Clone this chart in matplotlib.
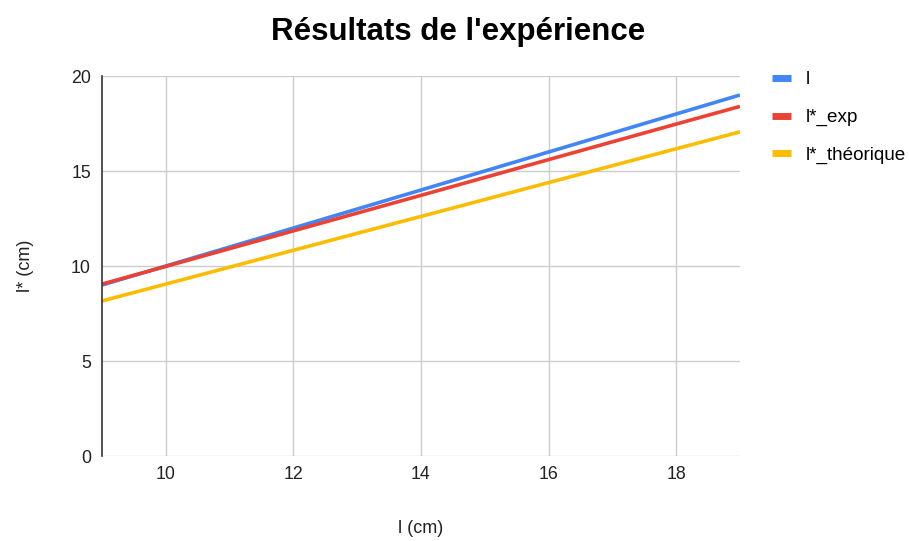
import matplotlib.pyplot as plt

plt.rcParams['font.family'] = ['Liberation Sans', 'DejaVu Sans']

# data
x_vals = [9, 10, 12, 14, 16, 18, 19]
l_vals = [9, 10, 12, 14, 16, 18, 19]
l_exp = [9.05, 9.98, 11.85, 13.72, 15.6, 17.47, 18.4]
l_theo = [8.16, 9.05, 10.83, 12.61, 14.39, 16.17, 17.06]

series_names = ['l', 'l*_exp', 'l*_théorique']
colors = ['#4285F4', '#EA4335', '#FBBC04']

fig = plt.figure(figsize=(9.09, 5.41), dpi=100)
ax = fig.add_axes([0.1122, 0.157, 0.7018, 0.7025])

for ys, name, c in zip([l_vals, l_exp, l_theo], series_names, colors):
    ax.plot(x_vals, ys, color=c, linewidth=2.6, label=name, solid_capstyle='butt')

ax.set_xlim(9, 19)
ax.set_ylim(0, 20)
ax.set_xticks([10, 12, 14, 16, 18])
ax.set_yticks([0, 5, 10, 15, 20])
ax.grid(True, color='#cccccc', linewidth=1)
ax.set_axisbelow(True)

for s in ['top', 'right', 'bottom']:
    ax.spines[s].set_visible(False)
ax.spines['left'].set_color('#333333')
ax.spines['left'].set_linewidth(1.2)
ax.tick_params(length=0, labelsize=12.8, colors='#222222', pad=7)
ax.tick_params(axis='y', pad=8)

ax.set_xlabel('l (cm)', fontsize=13, color='#222222', labelpad=26.5)
ax.set_ylabel('l* (cm)', fontsize=13, color='#222222', labelpad=27)

fig.text(0.5044, 1 - 40 / 541, "Résultats de l'expérience", ha='center', va='baseline',
         fontsize=22.5, fontweight='bold', color='#000000')

leg = ax.legend(loc='upper left', bbox_to_anchor=(1.024, 1.058), frameon=False,
                fontsize=13.6, handlelength=1.0, handleheight=0.5,
                labelspacing=1.09, handletextpad=0.75)
for h in leg.get_lines():
    h.set_linewidth(5)

fig.savefig('out.png', dpi=100)
